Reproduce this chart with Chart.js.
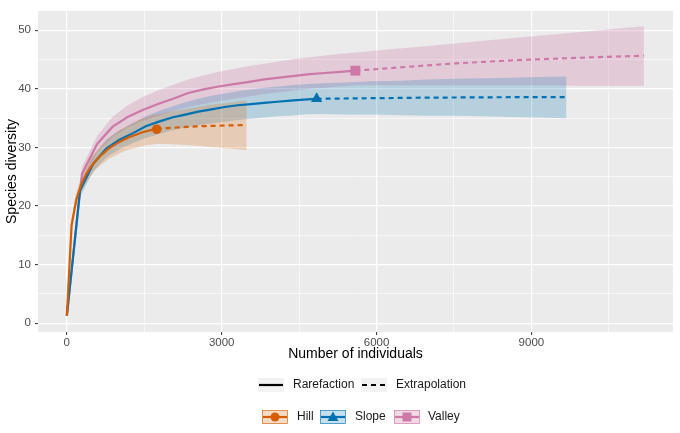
<!DOCTYPE html>
<html>
<head>
<meta charset="utf-8">
<script src="https://cdn.jsdelivr.net/npm/chart.js@4.4.1/dist/chart.umd.min.js"></script>
<style>
  html, body { margin: 0; padding: 0; background: #fff; }
  #wrap { width: 680px; height: 433px; }
</style>
</head>
<body>
<div id="wrap"><canvas id="chart"></canvas></div>
<script>
// sample sizes (knots) and estimated richness
var hillX  = [1, 92, 184, 275, 367, 459, 550, 642, 734, 825, 917, 1009, 1100, 1192, 1284, 1375, 1467, 1559, 1650, 1742, 1936, 2130, 2323, 2517, 2710, 2904, 3097, 3291, 3484];
var hillY  = [1.3, 16.7, 21.1, 23.6, 25.3, 26.6, 27.6, 28.5, 29.2, 29.9, 30.4, 30.9, 31.3, 31.7, 32.0, 32.3, 32.6, 32.8, 33.0, 33.1, 33.3, 33.4, 33.5, 33.6, 33.65, 33.7, 33.75, 33.78, 33.8];
var hillLo = [1.0, 15.5, 19.9, 22.3, 23.9, 25.1, 26.1, 26.9, 27.5, 28.1, 28.5, 28.9, 29.3, 29.6, 29.8, 30.0, 30.2, 30.4, 30.5, 30.6, 30.6, 30.5, 30.4, 30.3, 30.1, 30.0, 29.8, 29.7, 29.5];
var hillHi = [1.6, 17.9, 22.3, 24.9, 26.7, 28.1, 29.1, 30.1, 30.9, 31.7, 32.3, 32.9, 33.3, 33.8, 34.2, 34.6, 35.0, 35.2, 35.5, 35.6, 36.0, 36.3, 36.6, 36.9, 37.2, 37.4, 37.6, 37.8, 38.0];
var hillObs = 19;

var slopeX  = [1, 255, 510, 764, 1019, 1274, 1529, 1783, 2038, 2293, 2548, 2802, 3057, 3312, 3566, 3821, 4076, 4331, 4585, 4840, 5378, 5916, 6453, 6991, 7529, 8067, 8604, 9142, 9680];
var slopeY  = [1.3, 22.6, 27.2, 29.8, 31.3, 32.4, 33.6, 34.4, 35.1, 35.6, 36.1, 36.5, 36.9, 37.2, 37.4, 37.6, 37.8, 38.0, 38.15, 38.3, 38.35, 38.4, 38.45, 38.5, 38.52, 38.55, 38.57, 38.59, 38.6];
var slopeLo = [1.0, 21.5, 25.9, 28.3, 29.7, 30.7, 31.6, 32.3, 32.9, 33.4, 33.8, 34.1, 34.4, 34.7, 34.9, 35.1, 35.3, 35.4, 35.6, 35.7, 35.6, 35.6, 35.5, 35.4, 35.4, 35.3, 35.2, 35.1, 35.0];
var slopeHi = [1.6, 23.7, 28.5, 31.3, 32.9, 34.1, 35.3, 36.2, 37.0, 37.7, 38.3, 38.8, 39.2, 39.6, 39.9, 40.2, 40.4, 40.6, 40.8, 40.9, 41.1, 41.3, 41.4, 41.6, 41.7, 41.8, 41.9, 42.0, 42.1];
var slopeObs = 19;

var valleyX  = [1, 294, 588, 883, 1177, 1471, 1765, 2059, 2354, 2648, 2942, 3236, 3530, 3825, 4119, 4413, 4707, 5001, 5296, 5590, 6211, 6832, 7453, 8074, 8696, 9317, 9938, 10559, 11180];
var valleyY  = [1.3, 25.5, 30.6, 33.5, 35.2, 36.4, 37.4, 38.3, 39.3, 39.9, 40.4, 40.8, 41.2, 41.6, 41.9, 42.2, 42.5, 42.7, 42.9, 43.1, 43.5, 43.9, 44.3, 44.6, 44.9, 45.1, 45.3, 45.5, 45.65];
var valleyLo = [1.0, 24.3, 29.2, 31.8, 33.4, 34.5, 35.4, 36.2, 36.9, 37.4, 37.9, 38.3, 38.7, 39.1, 39.4, 39.7, 40.0, 40.2, 40.4, 40.6, 40.6, 40.6, 40.6, 40.6, 40.6, 40.6, 40.5, 40.5, 40.5];
var valleyHi = [1.6, 26.7, 32.0, 35.2, 37.2, 38.6, 39.7, 40.7, 41.6, 42.3, 42.9, 43.4, 43.9, 44.3, 44.7, 45.1, 45.4, 45.7, 46.0, 46.2, 46.7, 47.2, 47.7, 48.2, 48.7, 49.2, 49.7, 50.2, 50.7];
var valleyObs = 19;

var xTicks = [0, 1500, 3000, 4500, 6000, 7500, 9000, 10500];
var yTicks = [0, 5, 10, 15, 20, 25, 30, 35, 40, 45, 50];

var series = [
  { name: 'Hill',   color: '#D55E00', band: 'rgba(213,94,0,0.22)',    marker: 'circle',   size: 4.8, x: hillX,   y: hillY,   lo: hillLo,   hi: hillHi,   obs: hillObs },
  { name: 'Slope',  color: '#0072B2', band: 'rgba(0,114,178,0.22)',   marker: 'triangle', size: 6.5, x: slopeX,  y: slopeY,  lo: slopeLo,  hi: slopeHi,  obs: slopeObs },
  { name: 'Valley', color: '#CC79A7', band: 'rgba(204,121,167,0.28)', marker: 'rect',     size: 7,   x: valleyX, y: valleyY, lo: valleyLo, hi: valleyHi, obs: valleyObs }
];

function pts(xs, ys, from, to) {
  var out = [];
  for (var i = from; i <= to; i++) out.push({ x: xs[i], y: ys[i] });
  return out;
}

var datasets = [];
series.forEach(function (s) {
  var last = s.x.length - 1;
  var loIdx = datasets.length;
  datasets.push({ data: pts(s.x, s.lo, 0, last), borderWidth: 0, pointRadius: 0, fill: false, order: 3 });
  datasets.push({ data: pts(s.x, s.hi, 0, last), borderWidth: 0, pointRadius: 0, backgroundColor: s.band, fill: { target: loIdx }, order: 3 });
});
series.forEach(function (s) {
  var last = s.x.length - 1;
  var radii = s.x.slice(0, s.obs + 1).map(function (v, i) { return i === s.obs ? s.size : 0; });
  datasets.push({ data: pts(s.x, s.y, 0, s.obs), borderColor: s.color, backgroundColor: s.color, borderWidth: 2.2,
    pointRadius: radii, pointStyle: s.marker, pointBorderWidth: 0, fill: false, order: 1 });
  datasets.push({ data: pts(s.x, s.y, s.obs, last), borderColor: s.color, borderWidth: 2.2, borderDash: [5, 4],
    pointRadius: 0, fill: false, order: 2 });
});

var panelBg = {
  id: 'panelBg',
  beforeDraw: function (chart) {
    var a = chart.chartArea, ctx = chart.ctx;
    ctx.save();
    ctx.fillStyle = '#EBEBEB';
    ctx.fillRect(a.left, a.top, a.right - a.left, a.bottom - a.top);
    ctx.restore();
  }
};

function keyBox(ctx, x, y, w, h, fill, stroke) {
  ctx.fillStyle = fill;
  ctx.fillRect(x, y, w, h);
  if (stroke) {
    ctx.strokeStyle = stroke;
    ctx.lineWidth = 0.6;
    ctx.strokeRect(x + 0.5, y + 0.5, w - 1, h - 1);
  }
}

var bottomLegend = {
  id: 'bottomLegend',
  afterDraw: function (chart) {
    var ctx = chart.ctx;
    var textCol = '#1a1a1a';
    ctx.save();
    ctx.font = '12px "Liberation Sans", Arial, sans-serif';
    ctx.textBaseline = 'middle';

    // line type legend
    var y1 = 385;
    keyBox(ctx, 258, 378, 26, 14, '#F2F2F2');
    ctx.strokeStyle = '#000'; ctx.lineWidth = 2.2;
    ctx.beginPath(); ctx.moveTo(259, y1); ctx.lineTo(283, y1); ctx.stroke();
    ctx.fillStyle = textCol;
    ctx.fillText('Rarefaction', 293, y1);
    keyBox(ctx, 361, 378, 26, 14, '#F2F2F2');
    ctx.strokeStyle = '#000';
    ctx.setLineDash([5, 4]);
    ctx.beginPath(); ctx.moveTo(362, y1); ctx.lineTo(387, y1); ctx.stroke();
    ctx.setLineDash([]);
    ctx.fillStyle = textCol;
    ctx.fillText('Extrapolation', 396, y1);

    // site legend
    var y2 = 417;
    var keysX = [262, 320, 394];
    var textX = [297, 355, 428];
    series.forEach(function (s, i) {
      var kx = keysX[i];
      keyBox(ctx, kx, y2 - 7, 26, 14, s.band, s.color);
      ctx.strokeStyle = s.color; ctx.lineWidth = 2.2;
      ctx.beginPath(); ctx.moveTo(kx + 1, y2); ctx.lineTo(kx + 25, y2); ctx.stroke();
      ctx.fillStyle = s.color;
      var cx = kx + 13;
      ctx.beginPath();
      if (s.marker === 'circle') {
        ctx.arc(cx, y2, 4.5, 0, Math.PI * 2);
      } else if (s.marker === 'triangle') {
        ctx.moveTo(cx, y2 - 5.5); ctx.lineTo(cx + 5.5, y2 + 4); ctx.lineTo(cx - 5.5, y2 + 4); ctx.closePath();
      } else {
        ctx.rect(cx - 4.5, y2 - 4.5, 9, 9);
      }
      ctx.fill();
      ctx.fillStyle = textCol;
      ctx.fillText(s.name, textX[i], y2);
    });
    ctx.restore();
  }
};

function gridOpts(majorStep) {
  return {
    color: '#FFFFFF',
    lineWidth: function (c) { return c.tick && c.tick.value % majorStep === 0 ? 1.2 : 0.6; },
    tickColor: function (c) { return c.tick && c.tick.value % majorStep === 0 ? '#333333' : 'rgba(0,0,0,0)'; },
    tickLength: 3,
    tickWidth: 1
  };
}

var tickFont = { family: '"Liberation Sans", Arial, sans-serif', size: 11.5 };
var titleFont = { family: '"Liberation Sans", Arial, sans-serif', size: 14, lineHeight: 1.2 };

new Chart(document.getElementById('chart').getContext('2d'), {
  type: 'line',
  data: { datasets: datasets },
  options: {
    responsive: true,
    maintainAspectRatio: false,
    animation: false,
    layout: { padding: { left: 0, right: 5, top: 4, bottom: 68 } },
    plugins: { legend: { display: false }, tooltip: { enabled: false } },
    elements: { line: { tension: 0 } },
    scales: {
      x: {
        type: 'linear',
        min: -558, max: 11743,
        afterBuildTicks: function (scale) { scale.ticks = xTicks.map(function (v) { return { value: v }; }); },
        afterFit: function (scale) { scale.height = 33; },
        grid: gridOpts(3000),
        border: { display: false },
        ticks: { autoSkip: false, maxRotation: 0, padding: 1, color: '#4D4D4D', font: tickFont,
          callback: function (v) { return v % 3000 === 0 ? String(v) : ''; } },
        title: { display: true, text: 'Number of individuals', color: '#000', font: titleFont, padding: { top: 2, bottom: 2 } }
      },
      y: {
        type: 'linear',
        min: -1.5, max: 53.3,
        afterBuildTicks: function (scale) { scale.ticks = yTicks.map(function (v) { return { value: v }; }); },
        afterFit: function (scale) { scale.width = 38; },
        grid: gridOpts(10),
        border: { display: false },
        ticks: { autoSkip: false, padding: 4, color: '#4D4D4D', font: tickFont,
          callback: function (v) { return v % 10 === 0 ? String(v) : ''; } },
        title: { display: true, text: 'Species diversity', color: '#000', font: titleFont, padding: { top: 4, bottom: 0 } }
      }
    }
  },
  plugins: [panelBg, bottomLegend]
});
</script>
</body>
</html>
